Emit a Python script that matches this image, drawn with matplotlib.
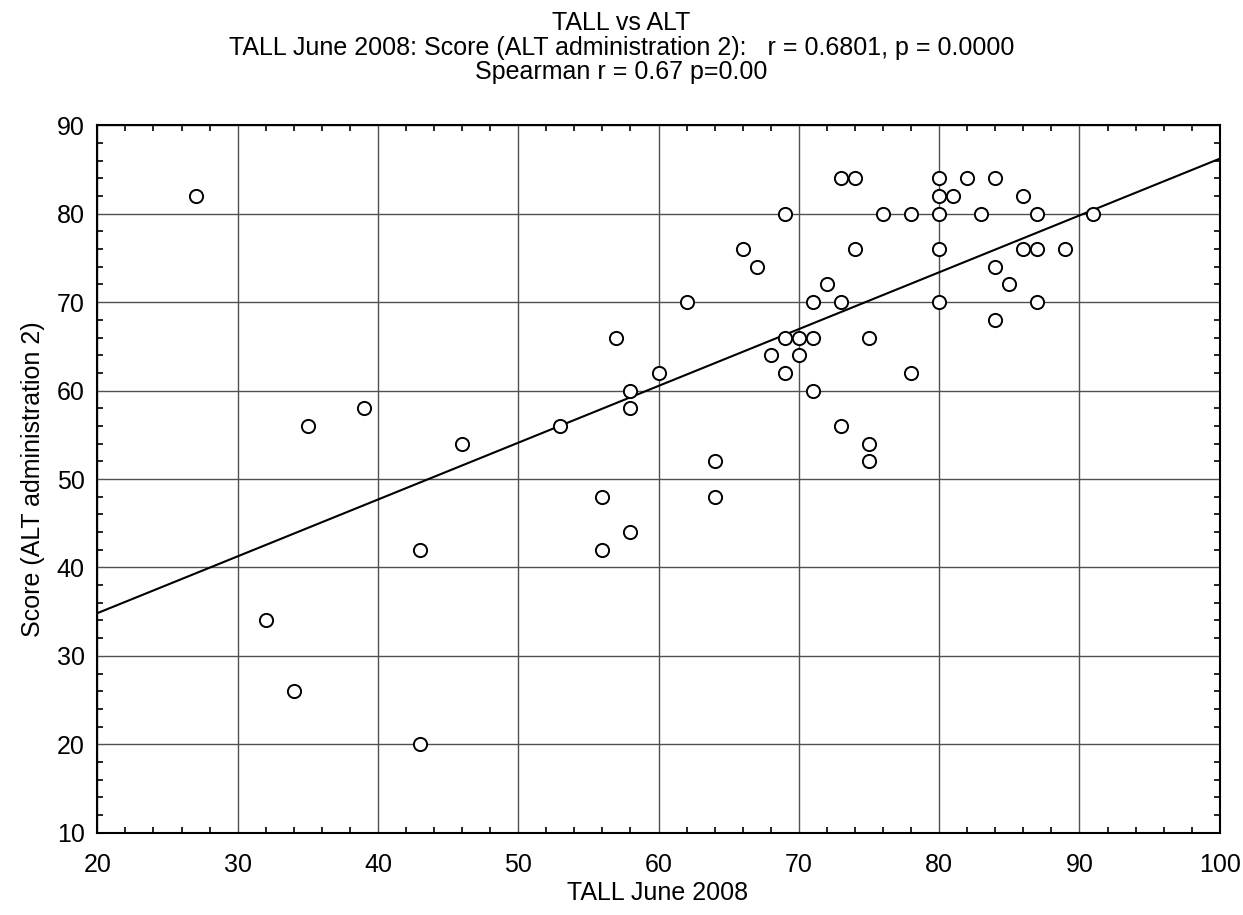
import numpy as np
import matplotlib
matplotlib.use("Agg")
import matplotlib.pyplot as plt
from matplotlib.ticker import MultipleLocator

matplotlib.rcParams['font.family'] = ['Liberation Sans', 'DejaVu Sans']

# TALL June 2008 scores (x) and ALT administration 2 scores (y)
tall = [27, 32, 34, 35, 39, 43, 43, 46, 53, 56, 56, 57, 58, 58, 58, 60, 62,
        64, 64, 66, 67, 68, 69, 69, 69, 70, 70, 71, 71, 71, 72, 73, 73, 73,
        74, 74, 75, 75, 75, 76, 78, 78, 80, 80, 80, 80, 80, 81, 82, 83, 84,
        84, 84, 85, 86, 86, 87, 87, 87, 89, 91]
alt = [82, 34, 26, 56, 58, 42, 20, 54, 56, 48, 42, 66, 60, 58, 44, 62, 70,
       52, 48, 76, 74, 64, 80, 66, 62, 66, 64, 70, 66, 60, 72, 84, 70, 56,
       84, 76, 66, 54, 52, 80, 80, 62, 84, 82, 80, 76, 70, 82, 84, 80, 84,
       74, 68, 72, 82, 76, 80, 76, 70, 76, 80]

title_lines = [
    "TALL vs ALT",
    "TALL June 2008: Score (ALT administration 2):   r = 0.6801, p = 0.0000",
    "Spearman r = 0.67 p=0.00",
]

fig = plt.figure(figsize=(12.43, 9.15), dpi=100)
ax = fig.add_axes([0.0783, 0.090, 0.9030, 0.773])

# regression line from least squares fit
slope, intercept = np.polyfit(tall, alt, 1)
xs = np.array([20, 100])
ax.plot(xs, slope * xs + intercept, color='black', linewidth=1.5, zorder=3)

ax.plot(tall, alt, 'o', markersize=9.5, markerfacecolor='white',
        markeredgecolor='black', markeredgewidth=1.4, zorder=4)

ax.set_xlim(20, 100)
ax.set_ylim(10, 90)
ax.xaxis.set_major_locator(MultipleLocator(10))
ax.yaxis.set_major_locator(MultipleLocator(10))
ax.xaxis.set_minor_locator(MultipleLocator(2))
ax.yaxis.set_minor_locator(MultipleLocator(2))
ax.grid(True, which='major', color='#505050', linewidth=1.0, zorder=1)
ax.tick_params(which='both', direction='in', top=True, right=True,
               labelsize=18, width=1.2)
ax.tick_params(which='major', length=0, pad=9)
ax.tick_params(which='minor', length=4)
ax.tick_params(axis='x', which='major', pad=15)
for s in ax.spines.values():
    s.set_linewidth(1.5)

fig.text(658 / 1243, 1 - 893 / 915, "TALL June 2008", ha='center',
         va='center', fontsize=18)
fig.text(33 / 1243, 1 - 479 / 915, "Score (ALT administration 2)",
         ha='center', va='center', rotation=90, fontsize=18)

for i, line in enumerate(title_lines):
    fig.text(0.5, 1 - (23 + 24.5 * i) / 915, line, ha='center', va='center',
             fontsize=18)

fig.savefig("out.png", dpi=100)
